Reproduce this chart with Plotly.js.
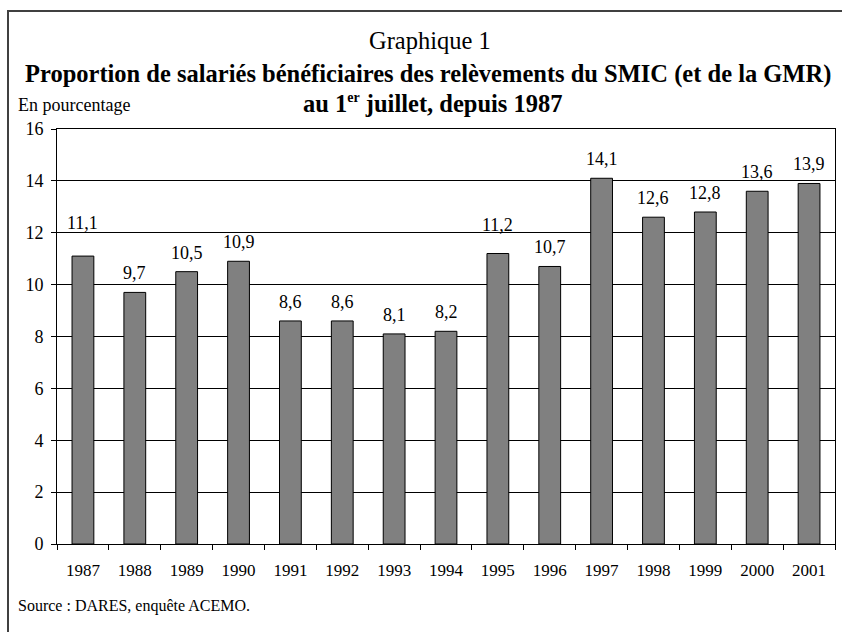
<!DOCTYPE html>
<html>
<head>
<meta charset="utf-8">
<script src="https://cdn.plot.ly/plotly-3.0.1.min.js"></script>
<style>html,body{margin:0;padding:0;background:#fff;}#chart{width:842px;height:632px;}</style>
</head>
<body>
<div id="chart"></div>
<script>
const years = ['1987','1988','1989','1990','1991','1992','1993','1994','1995','1996','1997','1998','1999','2000','2001'];
const values = [11.1, 9.7, 10.5, 10.9, 8.6, 8.6, 8.1, 8.2, 11.2, 10.7, 14.1, 12.6, 12.8, 13.6, 13.9];
const valueLabels = values.map(v => v.toFixed(1).replace('.', ','));
const yTicks = [0, 2, 4, 6, 8, 10, 12, 14, 16];

const W = 842, H = 632;
const M = {l: 57, r: 7, t: 129, b: 88};
const PW = W - M.l - M.r, PH = H - M.t - M.b;
const px = x => (x - M.l) / PW;
const py = y => (H - M.b - y) / PH;

const serif = 'Liberation Serif, Times New Roman, serif';
const extraLift = {'1987': 14, '1995': 10};

const annotations = years.map((yr, i) => ({
  x: i, y: values[i], xref: 'x', yref: 'y',
  text: valueLabels[i], showarrow: false,
  yanchor: 'bottom', yshift: 7 + (extraLift[yr] || 0),
  font: {family: serif, size: 18, color: '#000'}
}));

annotations.push(
  {xref: 'paper', yref: 'paper', x: px(430), y: py(40), text: 'Graphique 1', showarrow: false,
   xanchor: 'center', yanchor: 'middle', font: {family: serif, size: 24.5, color: '#000'}},
  {xref: 'paper', yref: 'paper', x: px(428), y: py(74), text: '<b>Proportion de salariés bénéficiaires des relèvements du SMIC (et de la GMR)</b>', showarrow: false,
   xanchor: 'center', yanchor: 'middle', font: {family: serif, size: 24.5, color: '#000'}},
  {xref: 'paper', yref: 'paper', x: px(433), y: py(103), text: '<b>au 1<sup><span style="font-size:14px">er</span></sup> juillet, depuis 1987</b>', showarrow: false,
   xanchor: 'center', yanchor: 'middle', font: {family: serif, size: 24.5, color: '#000'}},
  {xref: 'paper', yref: 'paper', x: px(16), y: py(105), text: 'En pourcentage', showarrow: false,
   xanchor: 'left', yanchor: 'middle', font: {family: serif, size: 18, color: '#000'}},
  {xref: 'paper', yref: 'paper', x: px(16), y: py(606), text: 'Source : DARES, enquête ACEMO.', showarrow: false,
   xanchor: 'left', yanchor: 'middle', font: {family: serif, size: 16, color: '#000'}}
);

const shapes = [
  {type: 'line', xref: 'paper', yref: 'paper', x0: px(8), x1: px(8), y0: py(10), y1: py(640), line: {color: '#404040', width: 2}},
  {type: 'line', xref: 'paper', yref: 'paper', x0: px(7), x1: px(850), y0: py(11), y1: py(11), line: {color: '#404040', width: 2}}
];

const trace = {
  type: 'bar', x: years, y: values,
  marker: {color: '#808080', line: {color: '#000', width: 1}},
  hoverinfo: 'x+y'
};

const layout = {
  width: W, height: H,
  margin: M,
  paper_bgcolor: '#fff', plot_bgcolor: '#fff',
  showlegend: false,
  bargap: 0.58,
  font: {family: serif, color: '#000'},
  xaxis: {
    type: 'category', range: [-0.5, years.length - 0.5],
    showgrid: false, zeroline: false,
    showline: true, linecolor: '#000', linewidth: 1, mirror: true,
    ticks: 'outside', tickson: 'boundaries', ticklen: 5, tickcolor: '#000',
    tickangle: 0, automargin: false,
    ticklabelstandoff: 11,
    tickfont: {family: serif, size: 17, color: '#000'}
  },
  yaxis: {
    range: [0, 16], tickvals: yTicks, ticktext: yTicks.map(String),
    showgrid: true, gridcolor: '#000', gridwidth: 1,
    zeroline: false, automargin: false,
    showline: true, linecolor: '#000', linewidth: 1, mirror: true,
    ticks: 'outside', ticklen: 5, tickcolor: '#000',
    ticklabelstandoff: 4,
    tickfont: {family: serif, size: 18, color: '#000'}
  },
  annotations: annotations,
  shapes: shapes
};

Plotly.newPlot('chart', [trace], layout, {displayModeBar: false, staticPlot: true});
</script>
</body>
</html>
